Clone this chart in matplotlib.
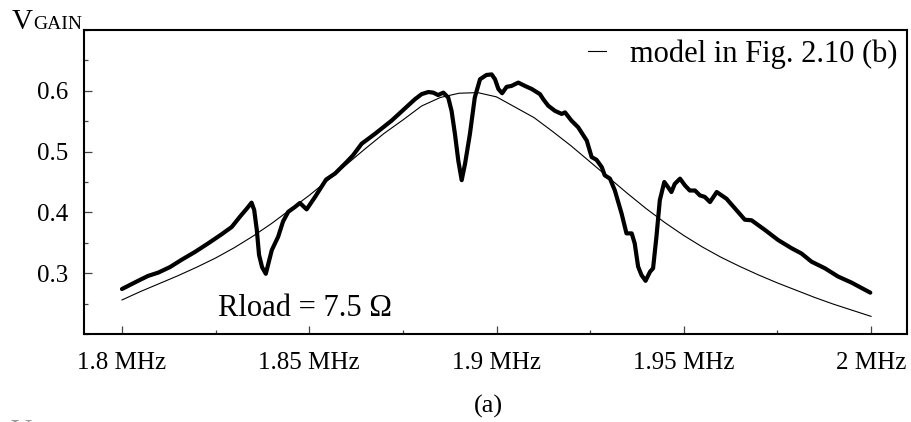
import matplotlib
matplotlib.use("Agg")
import matplotlib.pyplot as plt
from matplotlib.ticker import MultipleLocator, FixedLocator

plt.rcParams["font.family"] = ["Liberation Serif", "DejaVu Serif"]

# Measured gain versus frequency (MHz)
meas_freq = [
    1.8000, 1.8048, 1.8070, 1.8097, 1.8128, 1.8159, 1.8195, 1.8230, 1.8266,
    1.8293, 1.8315, 1.8333, 1.8346, 1.8353, 1.8360, 1.8366, 1.8374, 1.8384,
    1.8400, 1.8417, 1.8430, 1.8444, 1.8462, 1.8475, 1.8493, 1.8515, 1.8545,
    1.8569, 1.8600, 1.8617, 1.8640, 1.8675, 1.8720, 1.8782, 1.8800, 1.8818,
    1.8831, 1.8844, 1.8858, 1.8871, 1.8880, 1.8889, 1.8898, 1.8907, 1.8916,
    1.8929, 1.8942, 1.8956, 1.8973, 1.8987, 1.8996, 1.9005, 1.9015, 1.9027,
    1.9040, 1.9058, 1.9076, 1.9094, 1.9116, 1.9125, 1.9138, 1.9156, 1.9174,
    1.9183, 1.9200, 1.9218, 1.9241, 1.9254, 1.9267, 1.9281, 1.9289, 1.9303,
    1.9316, 1.9334, 1.9347, 1.9361, 1.9369, 1.9378, 1.9387, 1.9398, 1.9410,
    1.9418, 1.9427, 1.9436, 1.9448, 1.9458, 1.9467, 1.9476, 1.9490, 1.9503,
    1.9516, 1.9530, 1.9543, 1.9556, 1.9570, 1.9588, 1.9614, 1.9641, 1.9663,
    1.9681, 1.9717, 1.9752, 1.9788, 1.9814, 1.9841, 1.9877, 1.9912, 1.9948,
    1.9998,
]
meas_gain = [
    0.274, 0.289, 0.2956, 0.301, 0.310, 0.322, 0.335, 0.349, 0.364,
    0.376, 0.393, 0.406, 0.416, 0.404, 0.371, 0.330, 0.310, 0.299,
    0.338, 0.360, 0.385, 0.401, 0.409, 0.4155, 0.405, 0.425, 0.454,
    0.464, 0.483, 0.494, 0.513, 0.529, 0.551, 0.586, 0.5945, 0.598,
    0.597, 0.593, 0.597, 0.589, 0.567, 0.529, 0.485, 0.453, 0.480,
    0.529, 0.589, 0.619, 0.626, 0.627, 0.619, 0.603, 0.596, 0.6065,
    0.608, 0.6135, 0.608, 0.603, 0.5945, 0.586, 0.5755, 0.567, 0.562,
    0.5645, 0.551, 0.540, 0.518, 0.491, 0.4865, 0.4745, 0.461, 0.4555,
    0.436, 0.398, 0.3655, 0.3655, 0.349, 0.311, 0.297, 0.2875, 0.3025,
    0.308, 0.360, 0.420, 0.450, 0.4415, 0.4335, 0.447, 0.4555, 0.4445,
    0.436, 0.436, 0.428, 0.4255, 0.417, 0.4335, 0.4225, 0.4035, 0.388,
    0.387, 0.371, 0.3545, 0.341, 0.3325, 0.319, 0.308, 0.2945, 0.2845,
    0.268,
]

# Model response (Fig. 2.10 (b))
model_freq = [
    1.800, 1.805, 1.810, 1.815, 1.820, 1.825, 1.830, 1.835, 1.840, 1.845,
    1.850, 1.855, 1.860, 1.865, 1.870, 1.875, 1.880, 1.885, 1.890, 1.895,
    1.900, 1.905, 1.910, 1.915, 1.920, 1.925, 1.930, 1.935, 1.940, 1.945,
    1.950, 1.955, 1.960, 1.965, 1.970, 1.975, 1.980, 1.985, 1.990, 1.995,
    2.000,
]
model_gain = [
    0.256, 0.270, 0.283, 0.296, 0.310, 0.325, 0.342, 0.361, 0.382, 0.405,
    0.428, 0.453, 0.479, 0.505, 0.530, 0.552, 0.575, 0.589, 0.596, 0.597,
    0.590, 0.573, 0.556, 0.533, 0.509, 0.483, 0.457, 0.431, 0.406, 0.383,
    0.362, 0.343, 0.326, 0.311, 0.297, 0.284, 0.272, 0.260, 0.249, 0.239,
    0.229,
]

x_ticks = [1.80, 1.85, 1.90, 1.95, 2.00]
x_tick_labels = ["1.8 MHz", "1.85 MHz", "1.9 MHz", "1.95 MHz", "2 MHz"]
y_ticks = [0.3, 0.4, 0.5, 0.6]
y_tick_labels = ["0.3", "0.4", "0.5", "0.6"]

fig = plt.figure(figsize=(9.12, 4.22), dpi=100)
ax = fig.add_axes([84 / 912, 1 - 334 / 422, (907 - 84) / 912, (334 - 30) / 422])

ax.plot(meas_freq, meas_gain, color="black", lw=3.0, solid_capstyle="round",
        solid_joinstyle="round")
ax.plot(model_freq, model_gain, color="black", lw=0.8,
        label="model in Fig. 2.10 (b)")

ax.set_xlim(1.78986, 2.0096)
ax.set_ylim(0.2, 0.7)

ax.xaxis.set_major_locator(FixedLocator(x_ticks))
ax.set_xticklabels(x_tick_labels)
ax.xaxis.set_minor_locator(MultipleLocator(0.025))
ax.yaxis.set_major_locator(FixedLocator(y_ticks))
ax.set_yticklabels(y_tick_labels)
ax.yaxis.set_minor_locator(MultipleLocator(0.05))

ax.tick_params(axis="both", which="major", direction="in", length=6,
               width=0.9, labelsize=18, color="#444444")
ax.tick_params(axis="both", which="minor", direction="in", length=3,
               width=0.9, color="#444444")
ax.tick_params(axis="x", which="major", pad=13)
ax.tick_params(axis="y", which="major", pad=11)
ax.tick_params(top=False, right=False, which="both")

for sp in ax.spines.values():
    sp.set_linewidth(1.5)

leg = ax.legend(loc="upper right", bbox_to_anchor=(1.0, 1.0), frameon=False,
                fontsize=22, handlelength=0.6, handletextpad=0.8,
                borderpad=0.3, borderaxespad=0.0)

ax.text(1.8256, 0.229, "Rload = 7.5 Ω", fontsize=22, ha="left",
        va="baseline")

# Axis title drawn as V with small-caps GAIN
fig.text(12 / 912, 1 - 29 / 422, "V", fontsize=21, ha="left", va="baseline")
fig.text(33 / 912, 1 - 29 / 422, "GAIN", fontsize=14, ha="left",
         va="baseline")

fig.text(488 / 912, 1 - 406 / 422, "(a)", fontsize=19, ha="center",
         va="center")
fig.text(11 / 912, 1 - 419 / 422, "V", fontsize=21, ha="left", va="top",
         color="#999999")

fig.savefig("out.png", dpi=100)
